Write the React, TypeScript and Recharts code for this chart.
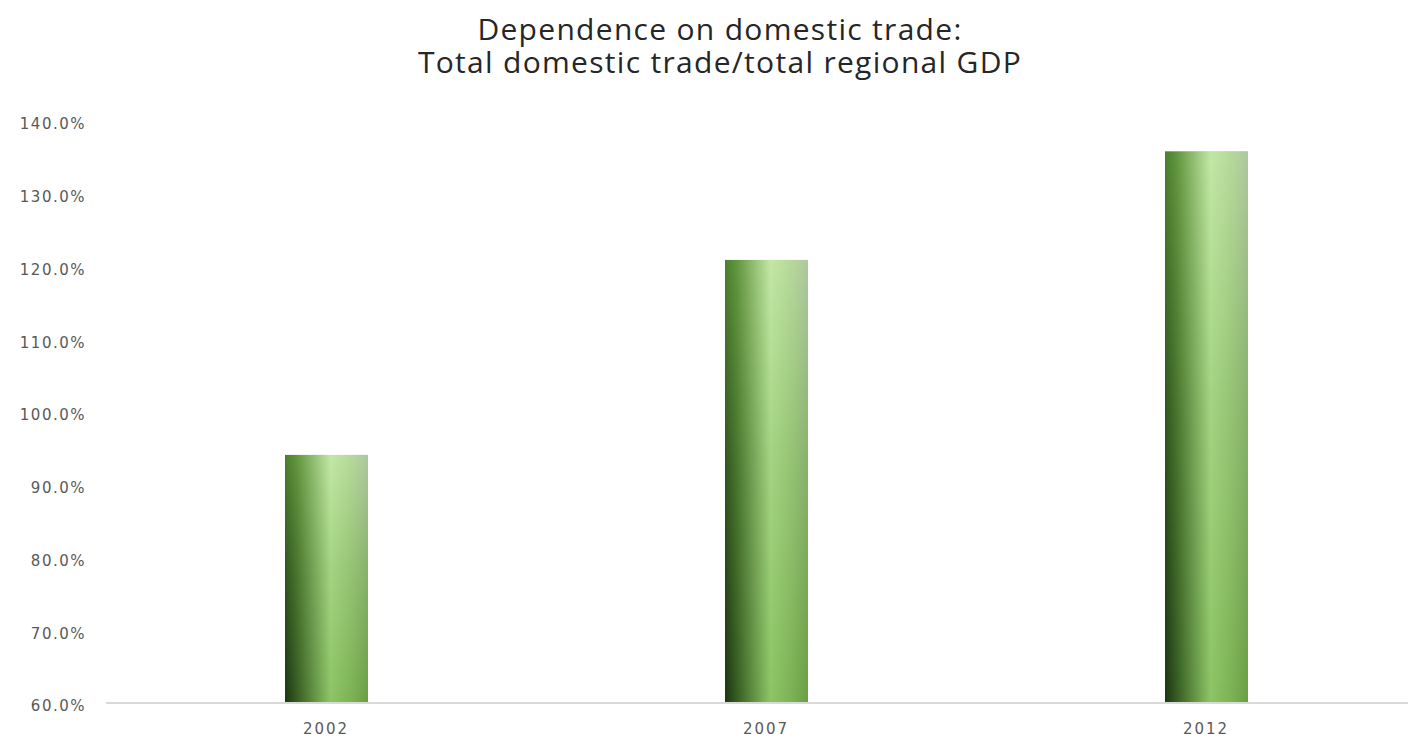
import React from "react";
import { ComposedChart, Bar, XAxis, YAxis } from "recharts";

const categories = ["2002", "2007", "2012"];
const ratioValues = [0.941, 1.209, 1.358];
const yTicks = [0.6, 0.7, 0.8, 0.9, 1.0, 1.1, 1.2, 1.3, 1.4];
const titleLines = ["Dependence on domestic trade:", "Total domestic trade/total regional GDP"];

const data = categories.map((c, i) => ({ year: c, ratio: ratioValues[i] }));

const GradBar = (props: any) => {
  const { x, y, width, height } = props;
  if (width == null || height == null || height <= 0) return null;
  return (
    <g>
      <rect x={x} y={y} width={width} height={height} fill="url(#barDark)" />
      <rect x={x} y={y} width={width} height={height} fill="url(#barLight)" mask="url(#vFade)" />
    </g>
  );
};

export default function App() {
  return (
    <div style={{ position: "absolute", left: 0, top: 0, width: 1408, height: 741, overflow: "hidden", background: "#fff" }}>
      <div
        style={{
          position: "absolute",
          left: 0,
          top: 12,
          width: 1440,
          textAlign: "center",
          fontFamily: "'Open Sans', sans-serif",
          fontSize: 30,
          letterSpacing: 1.3,
          lineHeight: "33px",
          color: "#262626",
        }}
      >
        {titleLines.map((t) => (
          <div key={t}>{t}</div>
        ))}
      </div>
      <ComposedChart
        width={1426}
        height={741}
        data={data}
        margin={{ top: 121, right: 0, bottom: 8, left: 0 }}
        barCategoryGap={0}
      >
        <defs>
          <linearGradient id="barDark" x1="0" y1="0" x2="1" y2="0">
            <stop offset="0%" stopColor="#1c3510" />
            <stop offset="18%" stopColor="#3e6628" />
            <stop offset="55%" stopColor="#8cc565" />
            <stop offset="78%" stopColor="#7db456" />
            <stop offset="100%" stopColor="#6a9f44" />
          </linearGradient>
          <linearGradient id="barLight" x1="0" y1="0" x2="1" y2="0">
            <stop offset="0%" stopColor="#4a8030" />
            <stop offset="15%" stopColor="#64983f" />
            <stop offset="55%" stopColor="#c2e7a6" />
            <stop offset="80%" stopColor="#b6d89a" />
            <stop offset="100%" stopColor="#aec7a0" />
          </linearGradient>
          <linearGradient id="vFadeGrad" x1="0" y1="0" x2="0" y2="1">
            <stop offset="0%" stopColor="#ffffff" stopOpacity={1} />
            <stop offset="45%" stopColor="#ffffff" stopOpacity={0.45} />
            <stop offset="100%" stopColor="#ffffff" stopOpacity={0} />
          </linearGradient>
          <mask id="vFade" maskContentUnits="objectBoundingBox">
            <rect x={0} y={0} width={1} height={1} fill="url(#vFadeGrad)" />
          </mask>
        </defs>
        <XAxis
          dataKey="year"
          height={30}
          axisLine={{ stroke: "#d9d9d9", strokeWidth: 2 }}
          tickLine={false}
          tickSize={0}
          tickMargin={20}
          tick={{ fill: "#595959", fontSize: 15, fontFamily: "'DejaVu Sans', sans-serif", letterSpacing: 2 }}
        />
        <YAxis
          width={106}
          domain={[0.6, 1.4]}
          ticks={yTicks}
          allowDataOverflow
          axisLine={false}
          tickLine={false}
          tickSize={0}
          tickMargin={20}
          tickFormatter={(v: number) => (v * 100).toFixed(1) + "%"}
          tick={{ fill: "#595959", fontSize: 15, fontFamily: "'DejaVu Sans', sans-serif", letterSpacing: 1.5, dy: 3 }}
        />
        <Bar dataKey="ratio" barSize={83} isAnimationActive={false} shape={<GradBar />} />
      </ComposedChart>
    </div>
  );
}
